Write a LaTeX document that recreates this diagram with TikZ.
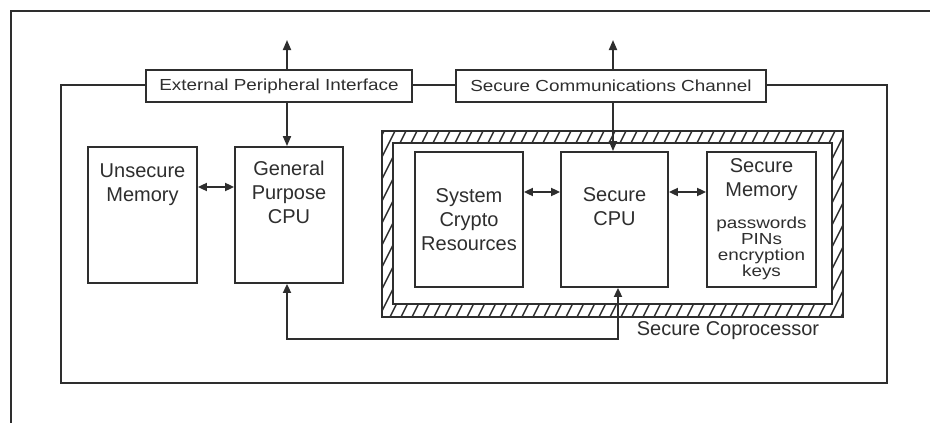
\documentclass[tikz,border=0pt]{standalone}
\usepackage{fontspec}
\setmainfont{Liberation Sans}
\newfontfamily\widesans[FakeStretch=1.18]{Liberation Sans}
\usetikzlibrary{arrows.meta}
\definecolor{ink}{HTML}{2E2E2E}
\tikzset{
  ln/.style={draw=ink, line width=1.8pt},
  box/.style={ln, fill=white, rectangle, inner sep=0pt},
  lbl/.style={align=center, inner sep=0pt, font=\fontsize{20}{24}\selectfont, text=ink},
  small/.style={align=center, inner sep=0pt, font=\widesans\fontsize{16}{16}\selectfont, text=ink},
  tip/.style={-{Triangle[length=10pt,width=8pt]}},
  dtip/.style={{Triangle[length=9pt,width=8pt]}-{Triangle[length=9pt,width=8pt]}},
}
\begin{document}
\begin{tikzpicture}[x=1pt,y=-1pt]
\useasboundingbox (0,0) rectangle (930,423);
% frame (top and left)
\draw[ln, line width=2pt] (930,11) -- (11,11) -- (11,423);
% outer system box
\draw[ln] (61,85) rectangle (887,383);
% interface boxes
\node[box, minimum width=266, minimum height=32] (epi) at (279,86) {};
\node[small] (epit) at (279,86) {External Peripheral Interface};
\node[box, minimum width=310, minimum height=32] (scc) at (611,86) {};
\node[small] (scct) at (611,86) {Secure Communications Channel};
\coordinate (up1) at (287,40);
\coordinate (up2) at (613,40);
\draw[ln, tip] (epi.north -| up1) -- (up1);
\draw[ln, tip] (scc.north -| up2) -- (up2);
% hatched coprocessor boundary
\begin{scope}[even odd rule]
  \clip (382,131) rectangle (843,317) (393,143) rectangle (832,304);
  \foreach \x in {280,291,...,860} {
    \draw[ink, line width=1.5pt] (\x,317) -- (\x+93,131);
  }
\end{scope}
\draw[ln] (382,131) rectangle (843,317);
\draw[ln] (393,143) rectangle (832,304);
\node[lbl] (copt) at (728,331) {Secure Coprocessor};
% left boxes
\node[box, minimum width=109, minimum height=136] (um) at (142.5,215) {};
\node[lbl] (umt) at (142.5,185) {Unsecure\\Memory};
\node[box, minimum width=108, minimum height=136] (gp) at (289,215) {};
\node[lbl] (gpt) at (289,192) {General\\Purpose\\CPU};
% secure boxes
\node[box, minimum width=108, minimum height=135] (scr) at (469,219.5) {};
\node[lbl] (scrt) at (469,220) {System\\Crypto\\Resources};
\node[box, minimum width=107, minimum height=135] (scpu) at (614.5,219.5) {};
\node[lbl] (scput) at (614.5,207) {Secure\\CPU};
\node[box, minimum width=109, minimum height=135] (smem) at (761.5,219.5) {};
\node[lbl] (smemt) at (761.5,180) {Secure\\Memory};
\node[small] (smemk) at (761.5,248) {passwords\\PINs\\encryption\\keys};
% connectors
\coordinate (d1) at (287,0);
\coordinate (d2) at (613,0);
\draw[ln, tip] (epi.south -| d1) -- (gp.north -| d1);
\draw[ln, tip] (scc.south -| d2) -- (scpu.north -| d2);
\coordinate (h1) at (0,187);
\coordinate (h2) at (0,192);
\draw[ln, dtip] (um.east |- h1) -- (gp.west |- h1);
\draw[ln, dtip] (scr.east |- h2) -- (scpu.west |- h2);
\draw[ln, dtip] (scpu.east |- h2) -- (smem.west |- h2);
\coordinate (b1) at (618,339);
\coordinate (b2) at (287,339);
\draw[ln, dtip] (scpu.south -| b1) -- (b1) -- (b2) -- (gp.south -| b2);
\end{tikzpicture}
\end{document}
